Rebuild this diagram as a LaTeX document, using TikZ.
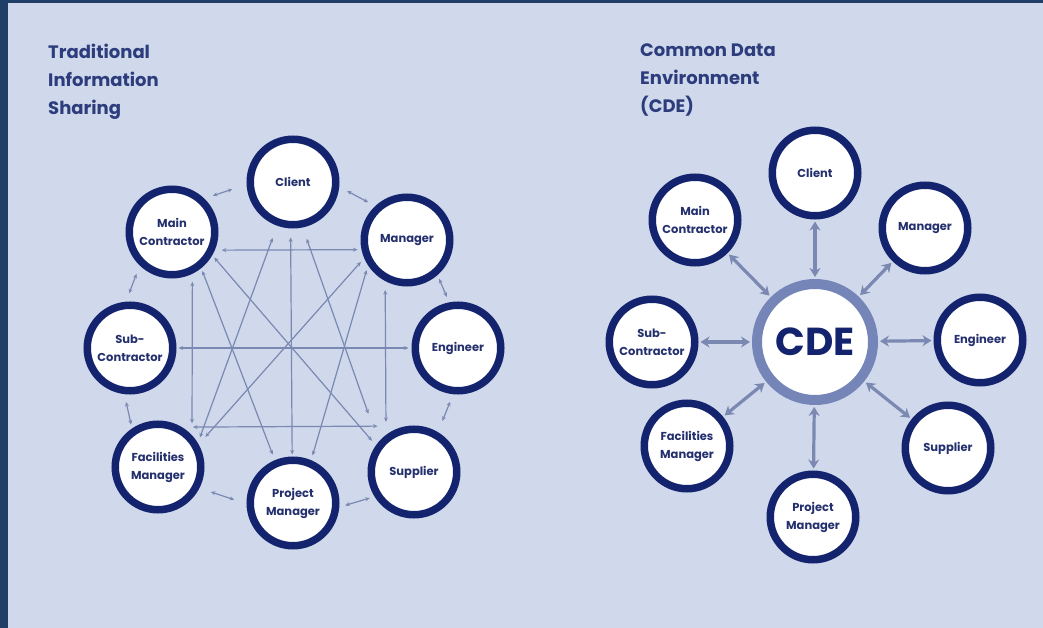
\documentclass[tikz,border=0pt]{standalone}
\usepackage{fontspec}
\setmainfont{Poppins}
\usepackage{tikz}
\usetikzlibrary{arrows.meta, positioning, shapes}
\definecolor{framenavy}{RGB}{31,63,102}
\definecolor{bgblue}{RGB}{207,217,235}
\definecolor{ringnavy}{RGB}{20,35,110}
\definecolor{textnavy}{RGB}{36,48,110}
\definecolor{titlenavy}{RGB}{44,60,124}
\definecolor{linkblue}{RGB}{122,136,178}
\definecolor{hubblue}{RGB}{117,133,184}
\newcommand{\partysize}{85.5pt}
\tikzstyle{title} = [% heading text
  anchor=north west,
  inner sep=0pt,
  align=left,
  text=titlenavy,
  font=\bfseries\fontsize{18}{28}\selectfont
  ]
\tikzstyle{party} = [% stakeholder node
  circle,
  minimum size=\partysize,
  inner sep=0pt,
  line width=7.5pt,
  draw=ringnavy,
  fill=white,
  text=textnavy,
  align=center,
  font=\bfseries\fontsize{11.5}{18}\selectfont
  ]
\tikzstyle{hub} = [% central CDE node
  circle,
  minimum size=116pt,
  inner sep=0pt,
  line width=10pt,
  draw=hubblue,
  fill=white,
  text=ringnavy,
  font=\bfseries\fontsize{39}{40}\selectfont
  ]
\tikzstyle{link} = [% thin two-way link
  <->,
  >={Stealth[length=4.5pt,width=4pt]},
  line width=1.2pt,
  draw=linkblue
  ]
\tikzstyle{spoke} = [% thick two-way link to CDE
  <->,
  >={Stealth[length=9pt,width=11pt]},
  line width=3.2pt,
  draw=linkblue,
  shorten <=2pt,
  shorten >=2pt
  ]

\begin{document}
\begin{tikzpicture}[x=1pt,y=-1pt]

\useasboundingbox (0,0) rectangle (1043,628);
\fill[framenavy] (0,0) rectangle (1043,628);
\fill[bgblue] (8,3) rectangle (1043,628);

%%% Headings
\node[title] (ttitle) at (48,44) {Traditional\\Information\\Sharing};
\node[title] (ctitle) at (640,44) {Common Data\\Environment\\(CDE)};

%%% Nodes, traditional
\node[party] (tclient) at (293,182) {Client};
\node[party] (tmain) at (172,232) {Main\\Contractor};
\node[party] (tmanager) at (407,240) {Manager};
\node[party] (tsub) at (130,348) {Sub-\\Contractor};
\node[party] (tengineer) at (458,348) {Engineer};
\node[party] (tfacilities) at (158,467) {Facilities\\Manager};
\node[party] (tproject) at (293,503) {Project\\Manager};
\node[party] (tsupplier) at (414,472) {Supplier};

%%% Links, outer ring
\draw[link, shorten <=9pt, shorten >=15pt] (tmain.46) -- (tclient.183);
\draw[link, shorten <=9pt, shorten >=8pt] (tclient.-6) -- (tmanager.133);
\draw[link, shorten <=4pt, shorten >=6pt] (tmanager.-49) -- (tengineer.101);
\draw[link, shorten <=8pt, shorten >=12pt] (tengineer.-96) -- (tsupplier.59);
\draw[link, shorten <=5pt, shorten >=6pt] (tsupplier.-148) -- (tproject.-5);
\draw[link, shorten <=13pt, shorten >=12pt] (tproject.181) -- (tfacilities.-27);
\draw[link, shorten <=4pt, shorten >=8pt] (tfacilities.124) -- (tsub.-97);
\draw[link, shorten <=9pt, shorten >=9pt] (tsub.95) -- (tmain.-134);

%%% Links, inside
\draw[link, shorten <=7pt, shorten >=4pt] (tmain.-23) -- (tmanager.192);
\draw[link, shorten <=11pt, shorten >=30pt] (tfacilities.59) -- (tsupplier.98);
\draw[link, shorten <=8pt, shorten >=12pt] (tmain.-64) -- (tfacilities.43);
\draw[link, shorten <=9pt, shorten >=13pt] (tmanager.-118) -- (tsupplier.127);
\draw[link, shorten <=2pt, shorten >=3pt] (tsub.0) -- (tengineer.180);
\draw[link, shorten <=9pt, shorten >=2pt] (tclient.-93) -- (tproject.91);
\draw[link, shorten <=13pt, shorten >=6pt] (tclient.-110) -- (tfacilities.31);
\draw[link, shorten <=12pt, shorten >=30pt] (tclient.-78) -- (tsupplier.140);
\draw[link, shorten <=3pt, shorten >=6pt] (tmain.-51) -- (tproject.113);
\draw[link, shorten <=3pt, shorten >=6pt] (tmain.-30) -- (tsupplier.145);
\draw[link, shorten <=5pt, shorten >=10pt] (tmanager.-157) -- (tfacilities.29);
\draw[link, shorten <=5pt, shorten >=5pt] (tmanager.-147) -- (tproject.67);

%%% Nodes, CDE
\node[hub] (cde) at (815,342) {CDE};
\node[party] (cclient) at (815,173) {Client};
\node[party] (cmain) at (695,220) {Main\\Contractor};
\node[party] (cmanager) at (925,228) {Manager};
\node[party] (csub) at (652,342) {Sub-\\Contractor};
\node[party] (cengineer) at (980,340) {Engineer};
\node[party] (cfacilities) at (687,446) {Facilities\\Manager};
\node[party] (cproject) at (813,517) {Project\\Manager};
\node[party] (csupplier) at (948,448) {Supplier};

%%% Spokes
\draw[spoke] (cde) -- (cclient);
\draw[spoke] (cde) -- (cmain);
\draw[spoke] (cde) -- (cmanager);
\draw[spoke] (cde) -- (csub);
\draw[spoke] (cde) -- (cengineer);
\draw[spoke] (cde) -- (cfacilities);
\draw[spoke] (cde) -- (cproject);
\draw[spoke] (cde) -- (csupplier);

\end{tikzpicture}
\end{document}
